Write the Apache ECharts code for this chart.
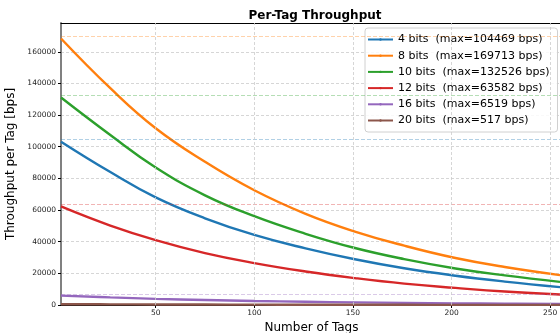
<!DOCTYPE html>
<html><head><meta charset="utf-8">
<script src="https://cdn.jsdelivr.net/npm/echarts@6/dist/echarts.min.js"></script>
<style>html,body{margin:0;padding:0;background:#fff}#c{width:560px;height:333px}</style>
</head><body><div id="c"></div>
<script>
const tags = [2, 27, 50, 75, 100, 126, 151, 176, 202, 227, 255];
const bits4  = [103200, 84000, 68000, 54800, 44300, 35800, 28900, 23200, 18500, 14800, 11300];
const bits8  = [168400, 137000, 111700, 90500, 72500, 57600, 46400, 37500, 29700, 24000, 18900];
const bits10 = [131100, 107400, 86900, 69300, 56100, 45000, 36000, 29000, 23100, 18700, 14600];
const bits12 = [62300, 50200, 41000, 32800, 26500, 21200, 17000, 13500, 10800, 8500, 6600];
const bits16 = [5900, 4800, 3900, 3150, 2550, 2050, 1650, 1330, 1050, 850, 670];
const bits20 = [510, 415, 340, 270, 220, 175, 140, 115, 90, 73, 57];
const seriesNames = ['4 bits  (max=104469 bps)','8 bits  (max=169713 bps)','10 bits  (max=132526 bps)','12 bits  (max=63582 bps)','16 bits  (max=6519 bps)','20 bits  (max=517 bps)'];
const maxValues = [104469, 169713, 132526, 63582, 6519, 517];
const xTicks = [50, 100, 150, 200, 250];
const yTicks = [0, 20000, 40000, 60000, 80000, 100000, 120000, 140000, 160000];
const colors = ['#1f77b4','#ff7f0e','#2ca02c','#d62728','#9467bd','#8c564b'];
const allData = [bits4, bits8, bits10, bits12, bits16, bits20];

const font = 'DejaVu Sans';
const series = allData.map((d, i) => ({
  name: seriesNames[i], type: 'line', smooth: 0.45,
  data: d.map((v, k) => [tags[k], v]),
  showSymbol: false, symbol: 'circle', symbolSize: 3,
  lineStyle: { width: 2.4, color: colors[i] }, itemStyle: { color: colors[i] },
  z: 3,
  markLine: {
    silent: true, symbol: 'none', label: { show: false },
    lineStyle: { type: [4, 2], width: 1, color: colors[i], opacity: 0.35 },
    data: [{ yAxis: maxValues[i] }]
  }
}));
series.push({
  type: 'line', data: [], silent: true,
  markLine: { silent: true, symbol: 'none', label: { show: false },
    lineStyle: { type: [3, 2], width: 0.8, color: '#cccccc' },
    data: xTicks.map(t => ({ xAxis: t })) }
});

const chart = echarts.init(document.getElementById('c'), null, { renderer: 'canvas' });
chart.setOption({
  animation: false,
  title: { text: 'Per-Tag Throughput', left: 310, top: 5, textAlign: 'center',
    textStyle: { fontFamily: font, fontSize: 12, fontWeight: 'bold', color: '#000' } },
  grid: { left: 61, right: -2, top: 23, bottom: 28, show: false, containLabel: false, outerBoundsMode: 'none' },
  legend: {
    orient: 'vertical', left: 365, top: 28, itemGap: 5.2, itemWidth: 25, itemHeight: 3,
    data: seriesNames,
    backgroundColor: 'rgba(255,255,255,0.85)', borderColor: '#d0d0d0', borderWidth: 1, borderRadius: 3,
    padding: [6, 8, 6, 2],
    textStyle: { fontFamily: font, fontSize: 11, color: '#000' }
  },
  xAxis: [{
    type: 'value', min: 2, max: 256,
    name: 'Number of Tags', nameLocation: 'middle', nameGap: 15,
    nameTextStyle: { fontFamily: font, fontSize: 12, color: '#000' },
    axisLine: { show: true, onZero: false, lineStyle: { color: '#000', width: 1 } },
    axisTick: { show: true, customValues: xTicks, length: 3, lineStyle: { color: '#000' } },
    axisLabel: { customValues: xTicks, fontFamily: font, fontSize: 7.5, color: '#222', margin: 4 },
    splitLine: { show: false }
  }, {
    type: 'value', min: 2, max: 256, position: 'top',
    axisLine: { show: true, onZero: false, lineStyle: { color: '#000', width: 1 } },
    axisTick: { show: false }, axisLabel: { show: false }, splitLine: { show: false }
  }],
  yAxis: {
    type: 'value', min: 0, max: 178199, interval: 20000,
    name: 'Throughput per Tag [bps]', nameLocation: 'middle', nameGap: 37,
    nameTextStyle: { fontFamily: font, fontSize: 12, color: '#000' },
    axisLine: { show: true, lineStyle: { color: '#808080', width: 2 } },
    axisTick: { show: true, length: 3, lineStyle: { color: '#000' } },
    axisLabel: { fontFamily: font, fontSize: 7.5, color: '#222', margin: 5, showMaxLabel: false,
      formatter: v => yTicks.includes(v) ? String(v) : '' },
    splitLine: { show: true, lineStyle: { type: [3, 2], color: '#cccccc', width: 0.8 } }
  },
  series: series
});
</script>
</body></html>
